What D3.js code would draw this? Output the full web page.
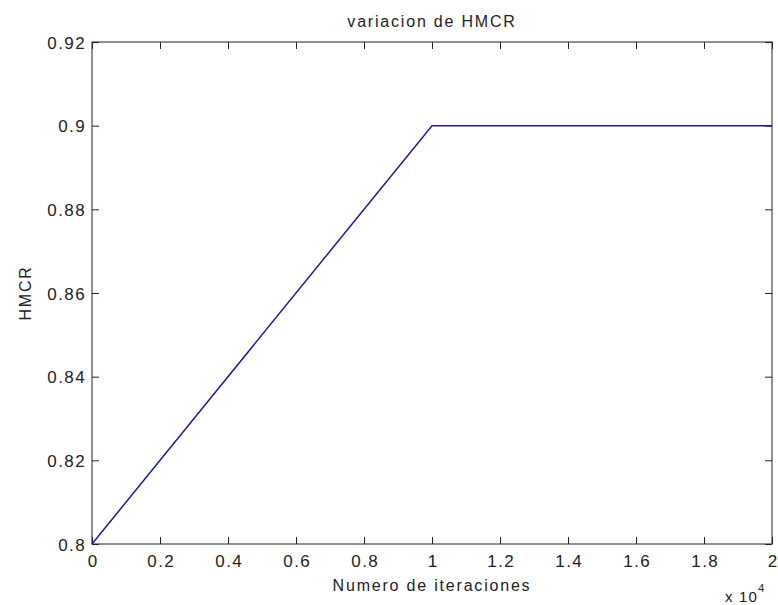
<!DOCTYPE html>
<html><head><meta charset="utf-8">
<script src="https://cdn.jsdelivr.net/npm/d3@7"></script>
<style>body{margin:0;background:#fff}svg{display:block}text{font-family:"Liberation Sans",Arial,sans-serif;fill:#222;letter-spacing:1.8px}</style>
</head><body><svg id="c" width="778" height="605"></svg>
<script>
const iterations = [0, 10000, 20000];
const hmcr = [0.8, 0.9, 0.9];
const xTicks = [0, 0.2, 0.4, 0.6, 0.8, 1, 1.2, 1.4, 1.6, 1.8, 2];
const yTicks = [0.8, 0.82, 0.84, 0.86, 0.88, 0.9, 0.92];
const title = "variacion de HMCR", xLabel = "Numero de iteraciones", yLabel = "HMCR";

const svg = d3.select("#c");
const L = 92, R = 772, T = 42, B = 544;
const x = d3.scaleLinear().domain([0, 2]).range([L, R]);
const y = d3.scaleLinear().domain([0.8, 0.92]).range([B, T]);
const fmt = d => String(+d.toFixed(2));
const TL = 7;

const g = svg.append("g");
const ax = g.append("g").attr("transform", `translate(0,${B})`).call(d3.axisBottom(x).tickValues(xTicks).tickSize(-TL).tickPadding(9).tickFormat(fmt));
const axT = g.append("g").attr("transform", `translate(0,${T})`).call(d3.axisTop(x).tickValues(xTicks).tickSize(-TL).tickFormat(""));
const ay = g.append("g").attr("transform", `translate(${L},0)`).call(d3.axisLeft(y).tickValues(yTicks).tickSize(-TL).tickPadding(6).tickFormat(fmt));
const ayR = g.append("g").attr("transform", `translate(${R},0)`).call(d3.axisRight(y).tickValues(yTicks).tickSize(-TL).tickFormat(""));
[ax, axT, ay, ayR].forEach(a => {
  a.select(".domain").remove();
  a.selectAll("line").attr("stroke", "#222");
  a.selectAll("text").style("font-size", "17px").style("letter-spacing", "1.4px").attr("fill", "#222");
});
ax.selectAll("text").attr("dy", null).attr("y", 23).attr("dx", "0.7px");
ay.selectAll("text").attr("dy", "0.36em");
g.append("rect").attr("x", L).attr("y", T).attr("width", R - L).attr("height", B - T)
  .attr("fill", "none").attr("stroke", "#222").attr("stroke-width", 1);

const line = d3.line().x((d, i) => x(iterations[i] / 10000)).y(d => y(d));
svg.append("path").datum(hmcr).attr("d", line).attr("fill", "none").attr("stroke", "#1c1c94").attr("stroke-width", 1.5);

svg.append("text").attr("x", (L + R) / 2).attr("y", 27).attr("text-anchor", "middle").style("font-size", "16px").text(title);
svg.append("text").attr("x", (L + R) / 2).attr("y", 591).attr("text-anchor", "middle").style("font-size", "16px").text(xLabel);
svg.append("text").attr("transform", `translate(31,${(T + B) / 2}) rotate(-90)`).attr("text-anchor", "middle").style("font-size", "16px").text(yLabel);
const e = svg.append("text").attr("x", 725).attr("y", 602).style("font-size", "15px").style("letter-spacing", "1.2px");
e.append("tspan").text("x 10");
e.append("tspan").attr("dy", -10).style("font-size", "11px").text("4");
</script></body></html>
